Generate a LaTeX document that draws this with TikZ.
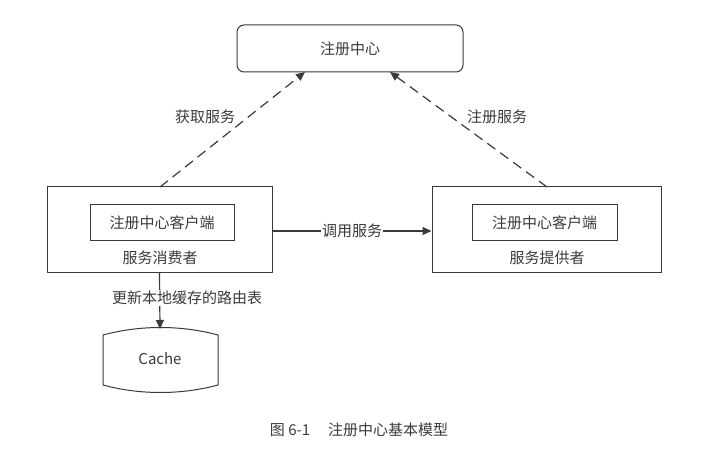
\documentclass[tikz,border=0pt]{standalone}
\usepackage{fontspec}
\setmainfont{Noto Sans CJK SC}
\usetikzlibrary{arrows.meta}
\definecolor{ink}{HTML}{3A3A3A}
\begin{document}
\begin{tikzpicture}[x=1pt,y=-1pt,
  every node/.style={text=ink,font=\fontsize{15}{17}\selectfont},
  box/.style={draw=ink,line width=1pt},
  arr/.style={draw=ink,line width=1.2pt,-{Triangle[length=9pt,width=8pt]}},
  dasharr/.style={arr,dash pattern=on 10pt off 6pt}]
\useasboundingbox (0,0) rectangle (719,454);
\node[box,rounded corners=7pt,minimum width=226pt,minimum height=47pt] (reg) at (350,48.5) {注册中心};
\node[box,minimum width=225pt,minimum height=85pt] (cons) at (159.5,229.5) {};
\node[box,minimum width=144pt,minimum height=35pt] (cc) at (162,222.5) {注册中心客户端};
\node (cl) at (160,258) {服务消费者};
\node[box,minimum width=229pt,minimum height=85pt] (prov) at (546.5,229.5) {};
\node[box,minimum width=145pt,minimum height=35pt] (pc) at (544.5,222.5) {注册中心客户端};
\node (pl) at (547,258) {服务提供者};
\coordinate (ct) at (160,187);
\coordinate (pt) at (547,187);
\coordinate (r1) at (305,72);
\coordinate (r2) at (390,72);
\draw[dasharr] (ct) -- (r1);
\draw[dasharr] (pt) -- (r2);
\node (l1) at (205,117) {获取服务};
\node (l2) at (497,117) {注册服务};
\draw[arr] (cons.east |- 0,231) -- node[fill=white,inner sep=1pt] (l3) {调用服务} (prov.west |- 0,231);
\coordinate (cache) at (160,329);
\draw[box] (103,335) .. controls (140,325) and (181,325) .. (218,335) -- (218,385) .. controls (181,395) and (140,395) .. (103,385) -- cycle;
\node (cn) at (160,359) {Cache};
\draw[arr] (cons.south) -- (cache);
\node[fill=white,inner sep=1pt] (l4) at (187,298) {更新本地缓存的路由表};
\node (cap) at (359,430) {图 6-1\hspace{1.2em}注册中心基本模型};
\end{tikzpicture}
\end{document}
